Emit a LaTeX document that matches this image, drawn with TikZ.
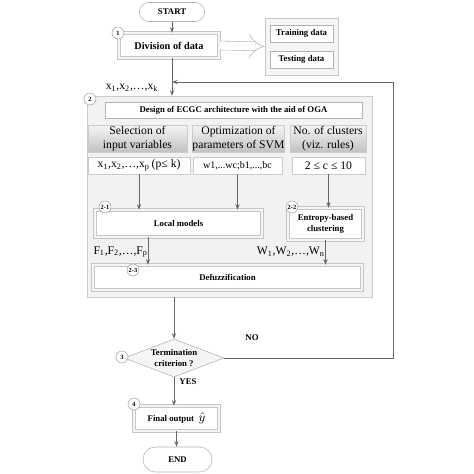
\documentclass[tikz,border=0pt]{standalone}
\usepackage{fontspec}
\setmainfont{Liberation Serif}
\usetikzlibrary{arrows.meta,shapes.geometric}
\begin{document}
\begin{tikzpicture}[x=0.72pt,y=-0.72pt,
    >={Stealth[length=4pt,width=3pt]},
    flow/.style={draw=gray!80!black, line width=0.6pt},
    tag/.style={circle, draw=gray!70, fill=white, inner sep=0pt, minimum size=8.6pt, font=\fontsize{4.6}{5}\selectfont\bfseries},
    lbl/.style={font=\fontsize{6.3}{7.4}\selectfont\bfseries, align=center, inner sep=0pt},
    txt/.style={font=\fontsize{8.4}{9.6}\selectfont, align=center, inner sep=0pt},
    plainbox/.style={draw=gray!60, fill=white, line width=0.5pt},
    framebox/.style={draw=gray!45, double=gray!8, double distance=1.8pt, fill=white, line width=0.4pt},
    headbox/.style={draw=gray!40, top color=gray!8, bottom color=gray!48, txt},
    valbox/.style={draw=gray!40, fill=white, txt},
    terminal/.style={draw=gray!60, fill=white, rounded corners=6.5pt, lbl}
  ]
  \useasboundingbox (0,0) rectangle (474,474);

  % start and data split
  \node[terminal, minimum width=46.8pt, minimum height=13.7pt] (start) at (172,12) {START};
  \node[framebox, lbl, font=\fontsize{7.4}{8}\selectfont\bfseries, minimum width=72pt, minimum height=18pt] (divide) at (169,45.5) {Division of data};
  \node[draw=gray!45, fill=gray!8, minimum width=52.6pt, minimum height=41pt] (datagroup) at (301.5,46.5) {};
  \node[plainbox, lbl, minimum width=45.4pt, minimum height=12.2pt] (train) at (301.5,33.5) {Training data};
  \node[plainbox, lbl, minimum width=45.4pt, minimum height=12.2pt] (test) at (301.5,59.5) {Testing data};
  \node[tag] (c1) at (118,33) {1};
  \coordinate (loop) at (172,82);

  % ECGC design panel
  \node[draw=gray!40, fill=gray!10, minimum width=205.2pt, minimum height=144.7pt] (panel) at (229.5,196.5) {};
  \node[tag] (c2) at (90,99) {2};
  \node[plainbox, lbl, minimum width=185pt, minimum height=11.5pt] (design) at (233.5,110) {Design of ECGC architecture with the aid of OGA};

  \node[headbox, minimum width=71.3pt, minimum height=19.4pt] (selhead) at (137.5,138.5) {Selection of\\input variables};
  \node[valbox, minimum width=73.4pt, minimum height=12.2pt] (selval) at (139,165.5) {x\textsubscript{1},x\textsubscript{2},\ldots,x\textsubscript{p}\,(p≤ k)};
  \node[headbox, minimum width=65.5pt, minimum height=19.4pt] (opthead) at (238.5,138.5) {Optimization of\\parameters of SVM};
  \node[valbox, minimum width=64pt, minimum height=12.2pt, font=\fontsize{7.2}{8}\selectfont] (optval) at (237.5,165.5) {w1,...wc;b1,...,bc};
  \node[headbox, minimum width=54.7pt, minimum height=19.4pt] (cluhead) at (328,138.5) {No. of clusters\\(viz. rules)};
  \node[valbox, minimum width=52.6pt, minimum height=12.2pt] (cluval) at (328.5,165.5) {2 ≤ c ≤ 10};

  \node[framebox, lbl, minimum width=120.2pt, minimum height=19.4pt] (local) at (178.5,223.5) {Local models};
  \node[framebox, lbl, minimum width=54pt, minimum height=23pt] (entropy) at (325.5,224) {Entropy-based\\clustering};
  \node[tag] (c21) at (105,207) {2-1};
  \node[tag] (c22) at (292,207) {2-2};

  \node[txt, anchor=east] (flbl) at (148,252) {F\textsubscript{1},F\textsubscript{2},\ldots,F\textsubscript{p}};
  \node[txt, anchor=east] (wlbl) at (325,252) {W\textsubscript{1},W\textsubscript{2},\ldots,W\textsubscript{n}};

  \node[framebox, lbl, minimum width=193.7pt, minimum height=18pt] (defuzz) at (227.5,277.5) {Defuzzification};
  \node[tag] (c23) at (133,270) {2-3};

  % termination and output
  \node[diamond, draw=gray!60, fill=gray!8, lbl, aspect=2.6, minimum width=72pt, minimum height=27.4pt] (term) at (174,358) {Termination\\criterion ?};
  \node[tag] (c3) at (122,357) {3};
  \node[lbl] (nolbl) at (252,338) {NO};
  \node[lbl] (yeslbl) at (188,382) {YES};
  \node[framebox, lbl, minimum width=61.2pt, minimum height=18pt] (final) at (176.5,418.5) {Final output\enspace{\fontsize{9}{9}\selectfont$\hat{y}$}};
  \node[tag] (c4) at (134,404) {4};
  \node[terminal, minimum width=49.7pt, minimum height=18pt, rounded corners=9pt] (end) at (177.5,459.5) {END};

  \node[txt] (xlbl) at (132,88) {x\textsubscript{1},x\textsubscript{2},\ldots,x\textsubscript{k}};

  % connectors
  \draw[flow,->] (start) -- (start |- divide.north);
  \draw[draw=gray!60, double=white, double distance=6pt, -{Implies[length=8pt,width=14pt]}] (divide.east) -- (datagroup.west);
  \draw[flow,->] (divide.south -| loop) -- (panel.north -| loop);
  \draw[flow,->] (selval.south) -- (selval.south |- local.north);
  \draw[flow,->] (optval.south) -- (optval.south |- local.north);
  \draw[flow,->] (cluval.south) -- (cluval.south |- entropy.north);
  \draw[flow,->] (local.south -| flbl.east) -- (defuzz.north -| flbl.east);
  \draw[flow,->] (entropy.south) -- (entropy.south |- defuzz.north);
  \draw[flow,->] (panel.south -| term.north) -- (term.north);
  \draw[flow,->] (term.south) -- (term.south |- final.north);
  \draw[flow,->] (final.south) -- (final.south |- end.north);
  \draw[flow,->] (term.east) -| (393,82) -- (loop);

\end{tikzpicture}
\end{document}
